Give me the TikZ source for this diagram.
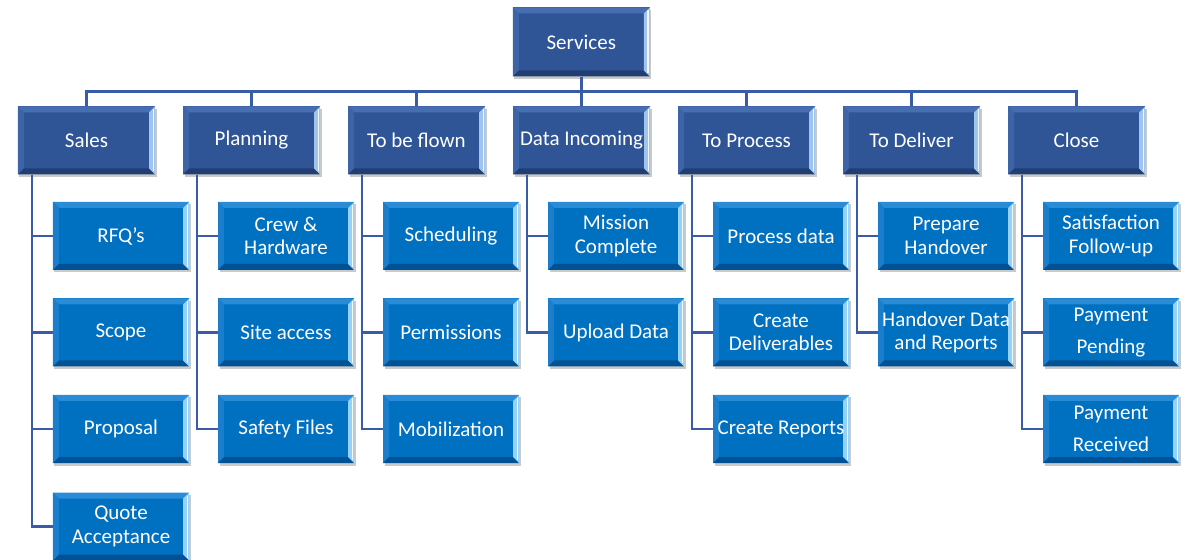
\documentclass[tikz,border=0pt]{standalone}
\usepackage{fontspec}
\setmainfont{Carlito}
\usetikzlibrary{shadows}
\definecolor{dkBase}{RGB}{47,85,151}
\definecolor{dkTop}{RGB}{72,110,178}
\definecolor{dkLeft}{RGB}{62,100,168}
\definecolor{dkRight}{RGB}{160,196,236}
\definecolor{dkBot}{RGB}{32,62,114}
\definecolor{ltBase}{RGB}{0,112,192}
\definecolor{ltTop}{RGB}{42,140,214}
\definecolor{ltLeft}{RGB}{26,126,204}
\definecolor{ltRight}{RGB}{150,210,246}
\definecolor{ltBot}{RGB}{0,82,148}
\definecolor{connC}{RGB}{56,92,168}
\tikzset{
  bevel/.style n args={5}{
    fill=#1,
    drop shadow={shadow xshift=1.5bp,shadow yshift=-2.5bp,opacity=0.35,fill=black!60},
    path picture={
      \fill[#2] (path picture bounding box.north west) -- (path picture bounding box.north east)
        -- ([shift={(-6bp,-6bp)}]path picture bounding box.north east)
        -- ([shift={(6bp,-6bp)}]path picture bounding box.north west) -- cycle;
      \fill[#3] (path picture bounding box.north west) -- (path picture bounding box.south west)
        -- ([shift={(6bp,6bp)}]path picture bounding box.south west)
        -- ([shift={(6bp,-6bp)}]path picture bounding box.north west) -- cycle;
      \fill[#5] (path picture bounding box.south west) -- (path picture bounding box.south east)
        -- ([shift={(-6bp,6bp)}]path picture bounding box.south east)
        -- ([shift={(6bp,6bp)}]path picture bounding box.south west) -- cycle;
      \fill[#4] (path picture bounding box.north east) -- (path picture bounding box.south east)
        -- ([shift={(-6bp,6bp)}]path picture bounding box.south east)
        -- ([shift={(-6bp,-6bp)}]path picture bounding box.north east) -- cycle;
      \fill[white!85!#4] ([shift={(-2.5bp,-3bp)}]path picture bounding box.north east) rectangle ([shift={(-1bp,3bp)}]path picture bounding box.south east);
    }},
  boxbase/.style={rectangle, inner sep=0pt, align=center, text=white,
    font=\fontsize{21bp}{23.5bp}\selectfont},
  headbox/.style={boxbase, minimum width=137bp, minimum height=68bp,
    bevel={dkBase}{dkTop}{dkLeft}{dkRight}{dkBot}},
  childbox/.style={boxbase, minimum width=136bp, minimum height=68bp,
    bevel={ltBase}{ltTop}{ltLeft}{ltRight}{ltBot}},
  conn/.style={draw=connC, line width=2.6bp}
}
\begin{document}
\begin{tikzpicture}[x=1bp,y=-1bp]
\useasboundingbox (0,0) rectangle (1190,560);

% top
\node[headbox, minimum height=69bp] (srv) at (581.3,42) {Services};

% level 1
\node[headbox] (sales) at (86.5,140.5) {Sales};
\node[headbox] (plan)  at (251.5,140.5) {Planning};
\node[headbox] (fly)   at (416.5,140.5) {To be flown};
\node[headbox] (data)  at (581.5,140.5) {Data Incoming};
\node[headbox] (proc)  at (746.5,140.5) {To Process};
\node[headbox] (deliv) at (911.5,140.5) {To Deliver};
\node[headbox] (close) at (1076.5,140.5) {Close};

% children
\node[childbox] (rfq)   at (121,236) {RFQ's};
\node[childbox] (scope) at (121,332.5) {Scope};
\node[childbox] (prop)  at (121,429) {Proposal};
\node[childbox] (quote) at (121,526.5) {Quote\\Acceptance};

\node[childbox] (crew)  at (286,236) {Crew \&\\Hardware};
\node[childbox] (site)  at (286,332.5) {Site access};
\node[childbox] (safe)  at (286,429) {Safety Files};

\node[childbox] (sched) at (451,236) {Scheduling};
\node[childbox] (perm)  at (451,332.5) {Permissions};
\node[childbox] (mob)   at (451,429) {Mobilization};

\node[childbox] (miss)  at (616,236) {Mission\\Complete};
\node[childbox] (upl)   at (616,332.5) {Upload Data};

\node[childbox] (pdata) at (781,236) {Process data};
\node[childbox] (cdel)  at (781,332.5) {Create\\Deliverables};
\node[childbox] (crep)  at (781,429) {Create Reports};

\node[childbox] (prep)  at (946,236) {Prepare\\Handover};
\node[childbox] (hand)  at (946,332.5) {Handover Data\\and Reports};

\node[childbox] (satis) at (1111,236) {Satisfaction\\Follow-up};
\node[childbox] (paypend) at (1111,332.5) {Payment\\[8bp]Pending};
\node[childbox] (payrec)  at (1111,429) {Payment\\[8bp]Received};

% connectors: top to level 1
\foreach \p in {sales,plan,fly,data,proc,deliv,close}
  \draw[conn] (srv.south) -- ++(0,15) -| (\p.north);

% connectors: level 1 to children
\foreach \p/\c in {sales/rfq,sales/scope,sales/prop,sales/quote,
                   plan/crew,plan/site,plan/safe,
                   fly/sched,fly/perm,fly/mob,
                   data/miss,data/upl,
                   proc/pdata,proc/cdel,proc/crep,
                   deliv/prep,deliv/hand,
                   close/satis,close/paypend,close/payrec}
  \draw[conn] ([xshift=14bp]\p.south west) |- (\c.west);
\end{tikzpicture}
\end{document}
